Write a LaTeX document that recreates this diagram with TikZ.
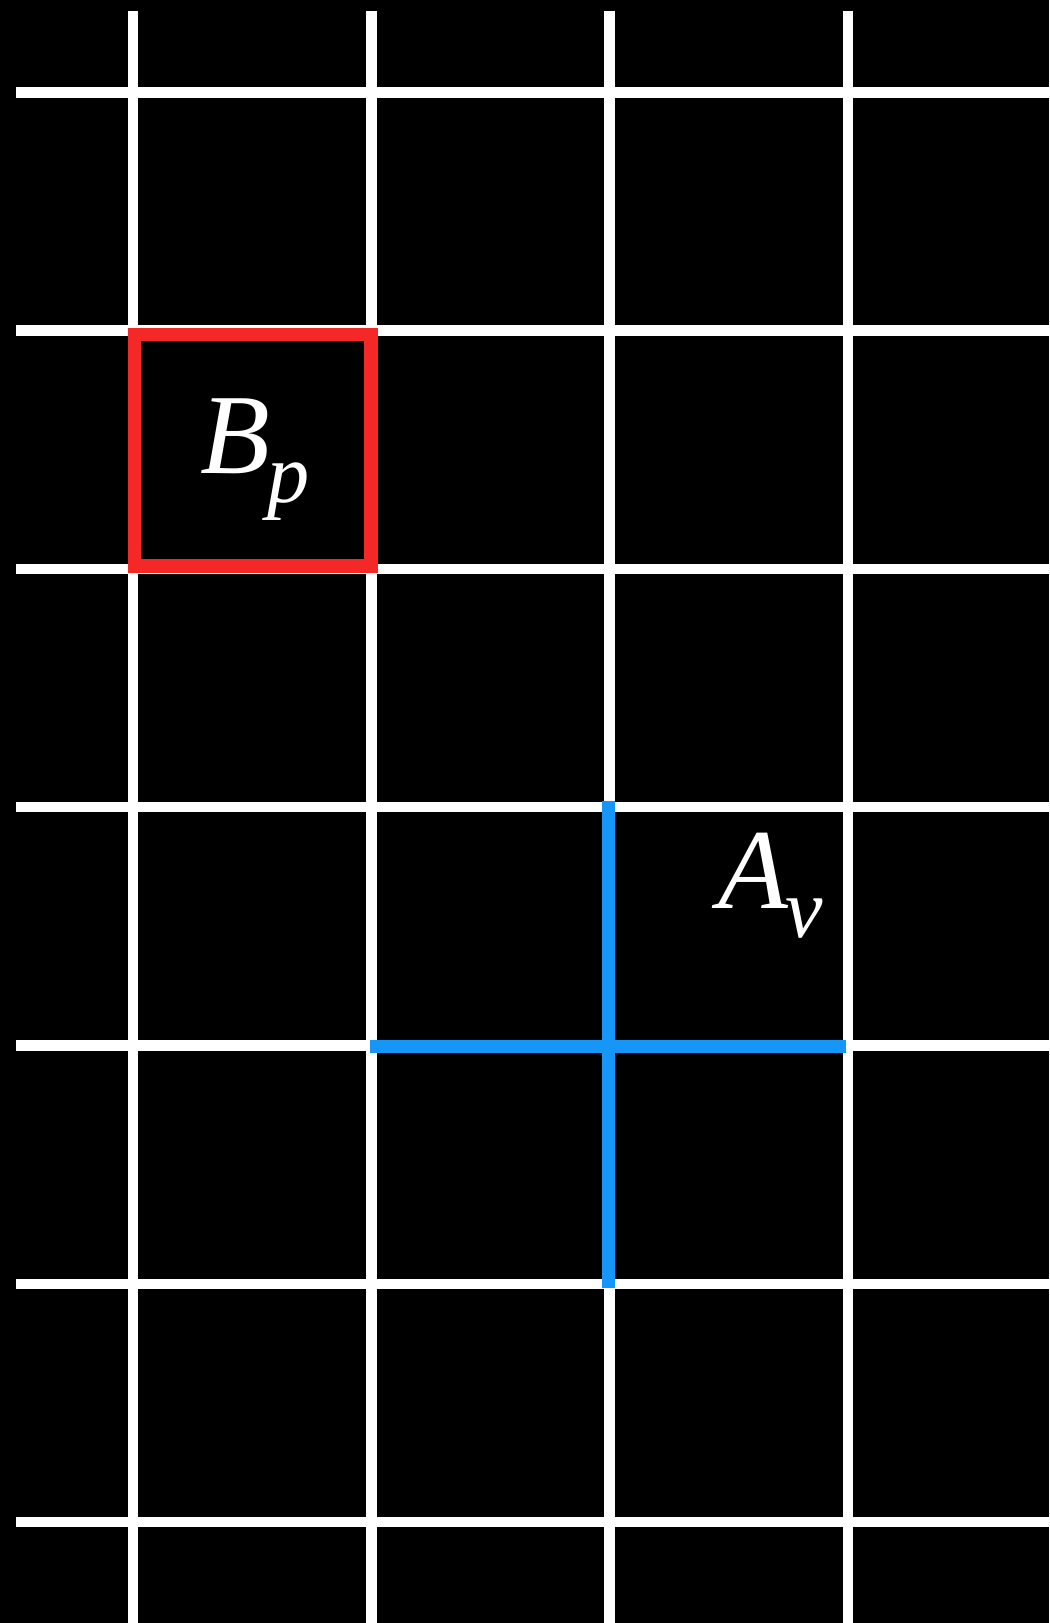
\documentclass[tikz,border=0pt]{standalone}
\usepackage{fontspec}
\setmainfont{Liberation Serif}
\definecolor{cellred}{RGB}{245,40,40}
\definecolor{edgeblue}{RGB}{22,150,248}
\usepackage{tikz}
\usetikzlibrary{positioning}
\newcommand{\symsub}[2]{\textit{#1}\kern-1.5pt\raisebox{-17pt}{\fontsize{48}{48}\selectfont\textit{#2}}}

\begin{document}
\begin{tikzpicture}[
    x=0.02cm, y=-0.02cm,
    gridline/.style={draw=white, line width=5.95pt},
    cellbox/.style={draw=cellred, line width=7.5pt},
    edgeline/.style={draw=edgeblue, line width=7.4pt},
    lbl/.style={text=white, inner sep=0pt, anchor=base west, font=\fontsize{65}{65}\selectfont},
]
    % background
    \fill[black] (0,0) rectangle (1049,1623);
    \useasboundingbox (0,0) rectangle (1049,1623);

    % grid
    \foreach \i in {0,...,3}
        \draw[gridline] ({133+238.3*\i},11.3) -- ({133+238.3*\i},1630);
    \foreach \j in {0,...,6}
        \draw[gridline] (16,{92.3+238.3*\j}) -- (1060,{92.3+238.3*\j});

    % plaquette
    \draw[cellbox] (134.5,334.3) rectangle (371,566);
    \node[lbl] (bp) at (200,473) {\symsub{B}{p}};

    % vertex star
    \coordinate (vtop) at (608.5,801);
    \coordinate (vbot) at (608.5,1288.3);
    \coordinate (vleft) at (370.3,1046.3);
    \coordinate (vright) at (845.6,1046.3);
    \draw[edgeline] (vtop) -- (vbot);
    \draw[edgeline] (vleft) -- (vright);
    \node[lbl] (av) at (718,908) {\symsub{A}{v}};
\end{tikzpicture}
\end{document}
